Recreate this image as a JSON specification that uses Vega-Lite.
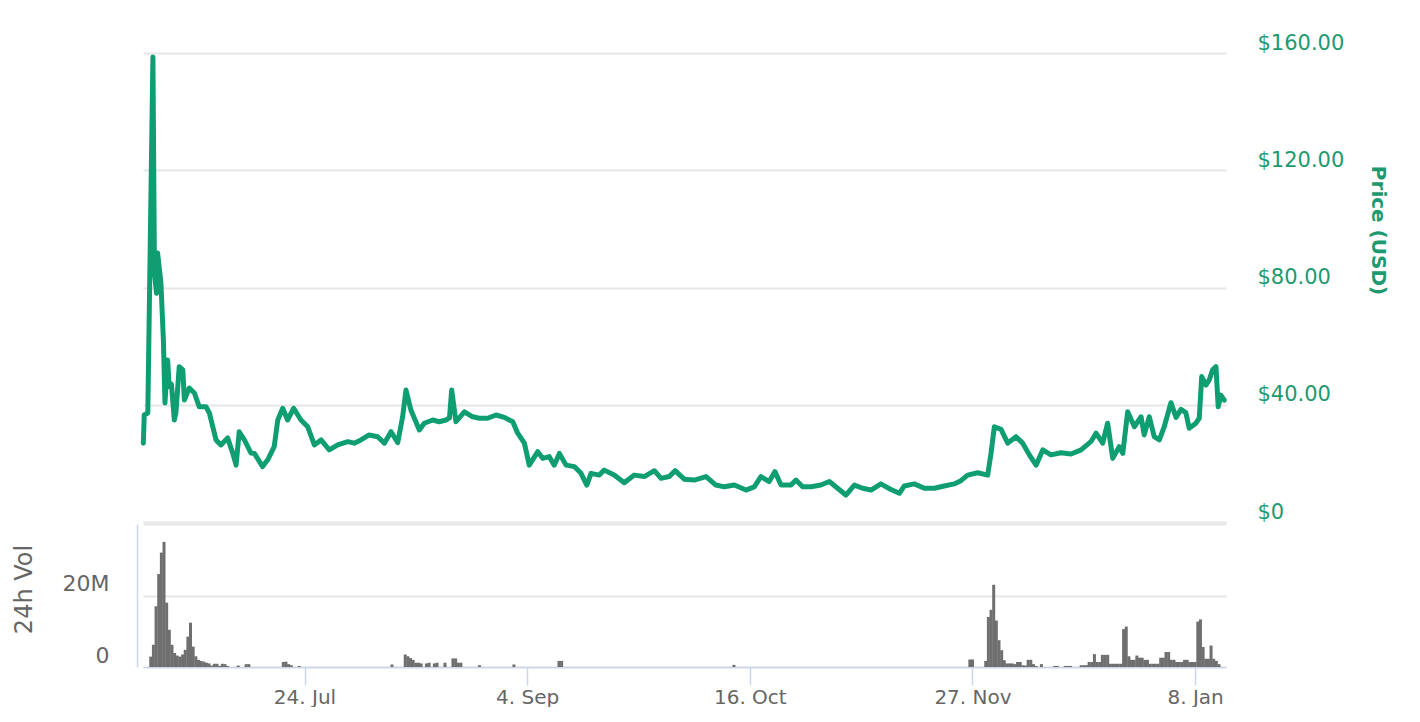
{
  "$schema": "https://vega.github.io/schema/vega-lite/v6.json",
  "background": "white",
  "padding": {"left": 12, "top": 32, "right": 20, "bottom": 0},
  "spacing": 2,
  "config": {"view": {"stroke": null}, "font": "DejaVu Sans"},
  "datasets": {
    "price": [
      {"t":"2017-06-24T13:00","p":26.9},{"t":"2017-06-24T17:00","p":36.5},{"t":"2017-06-25T09:00","p":37.2},{"t":"2017-06-25T16:00","p":73.5},
      {"t":"2017-06-26T08:00","p":158.6},{"t":"2017-06-26T15:00","p":85},{"t":"2017-06-27T00:00","p":78},{"t":"2017-06-27T05:00","p":91.8},
      {"t":"2017-06-27T20:00","p":81.5},{"t":"2017-06-28T07:00","p":62},{"t":"2017-06-28T14:00","p":40.6},{"t":"2017-06-29T02:00","p":55.3},
      {"t":"2017-06-29T09:00","p":46.2},{"t":"2017-06-29T19:00","p":47},{"t":"2017-06-30T08:00","p":34.8},{"t":"2017-06-30T15:00","p":37.2},
      {"t":"2017-07-01T06:00","p":53},{"t":"2017-07-01T22:00","p":51.9},{"t":"2017-07-02T05:00","p":41.6},{"t":"2017-07-03T03:00","p":45.7},
      {"t":"2017-07-04T02:00","p":44},{"t":"2017-07-05T00:00","p":39.3},{"t":"2017-07-06T06:00","p":39.3},{"t":"2017-07-06T21:00","p":37.2},
      {"t":"2017-07-08T03:00","p":28},{"t":"2017-07-09T01:00","p":26.3},{"t":"2017-07-10T07:00","p":28.7},{"t":"2017-07-11T06:00","p":23.5},
      {"t":"2017-07-11T21:00","p":19.4},{"t":"2017-07-12T11:00","p":30.8},{"t":"2017-07-13T10:00","p":28},{"t":"2017-07-14T16:00","p":23.5},
      {"t":"2017-07-15T07:00","p":23.4},{"t":"2017-07-16T20:00","p":18.9},{"t":"2017-07-17T19:00","p":21.2},{"t":"2017-07-19T00:00","p":25.7},
      {"t":"2017-07-19T16:00","p":34.8},{"t":"2017-07-20T14:00","p":38.8},{"t":"2017-07-21T12:00","p":34.8},{"t":"2017-07-22T15:00","p":38.8},
      {"t":"2017-07-24T00:00","p":34.8},{"t":"2017-07-25T06:00","p":32.5},{"t":"2017-07-26T12:00","p":26.3},{"t":"2017-07-27T18:00","p":28},
      {"t":"2017-07-29T07:00","p":24.6},{"t":"2017-07-30T21:00","p":26.3},{"t":"2017-08-01T18:00","p":27.4},{"t":"2017-08-02T23:00","p":26.9},
      {"t":"2017-08-04T05:00","p":28},{"t":"2017-08-05T18:00","p":29.7},{"t":"2017-08-07T08:00","p":29.1},{"t":"2017-08-08T14:00","p":26.9},
      {"t":"2017-08-09T20:00","p":30.8},{"t":"2017-08-11T02:00","p":27.1},{"t":"2017-08-12T00:00","p":35.9},{"t":"2017-08-12T15:00","p":45},
      {"t":"2017-08-13T13:00","p":38.2},{"t":"2017-08-15T03:00","p":31.4},{"t":"2017-08-16T01:00","p":33.7},{"t":"2017-08-17T15:00","p":34.8},
      {"t":"2017-08-18T20:00","p":34.2},{"t":"2017-08-20T02:00","p":34.8},{"t":"2017-08-20T18:00","p":35.5},{"t":"2017-08-21T04:00","p":45},
      {"t":"2017-08-21T23:00","p":34.2},{"t":"2017-08-23T13:00","p":37.6},{"t":"2017-08-25T02:00","p":35.9},{"t":"2017-08-26T08:00","p":35.4},
      {"t":"2017-08-27T21:00","p":35.4},{"t":"2017-08-29T11:00","p":36.5},{"t":"2017-08-31T00:00","p":35.7},{"t":"2017-09-01T14:00","p":34.2},
      {"t":"2017-09-02T12:00","p":30.3},{"t":"2017-09-03T18:00","p":26.9},{"t":"2017-09-04T16:00","p":19.4},{"t":"2017-09-06T06:00","p":24},
      {"t":"2017-09-07T04:00","p":21.7},{"t":"2017-09-08T10:00","p":22.3},{"t":"2017-09-09T08:00","p":19.4},{"t":"2017-09-10T07:00","p":23.4},
      {"t":"2017-09-11T13:00","p":19.4},{"t":"2017-09-13T02:00","p":18.9},{"t":"2017-09-14T08:00","p":16.6},{"t":"2017-09-15T10:00","p":12.6},
      {"t":"2017-09-16T05:00","p":16.6},{"t":"2017-09-17T18:00","p":16},{"t":"2017-09-18T16:00","p":17.7},{"t":"2017-09-20T13:00","p":16},
      {"t":"2017-09-22T10:00","p":13.4},{"t":"2017-09-24T07:00","p":16},{"t":"2017-09-26T04:00","p":15.5},{"t":"2017-09-28T01:00","p":17.5},
      {"t":"2017-09-29T07:00","p":14.9},{"t":"2017-09-30T20:00","p":15.5},{"t":"2017-10-01T22:00","p":17.5},{"t":"2017-10-03T15:00","p":14.6},
      {"t":"2017-10-05T12:00","p":14.3},{"t":"2017-10-07T17:00","p":15.5},{"t":"2017-10-09T13:00","p":12.6},{"t":"2017-10-11T03:00","p":12},
      {"t":"2017-10-13T00:00","p":12.6},{"t":"2017-10-15T04:00","p":10.9},{"t":"2017-10-16T17:00","p":12},{"t":"2017-10-17T23:00","p":15.5},
      {"t":"2017-10-19T12:00","p":13.8},{"t":"2017-10-20T14:00","p":17.2},{"t":"2017-10-21T17:00","p":12.6},{"t":"2017-10-23T14:00","p":12.6},
      {"t":"2017-10-24T12:00","p":14.3},{"t":"2017-10-25T18:00","p":12},{"t":"2017-10-27T08:00","p":12},{"t":"2017-10-29T04:00","p":12.6},
      {"t":"2017-10-30T18:00","p":13.8},{"t":"2017-11-01T07:00","p":11.5},{"t":"2017-11-02T20:00","p":9.2},{"t":"2017-11-04T10:00","p":12.6},
      {"t":"2017-11-05T23:00","p":11.5},{"t":"2017-11-07T13:00","p":10.9},{"t":"2017-11-09T09:00","p":13},{"t":"2017-11-11T06:00","p":11.1},
      {"t":"2017-11-12T20:00","p":9.8},{"t":"2017-11-13T18:00","p":12.3},{"t":"2017-11-15T15:00","p":13},{"t":"2017-11-17T12:00","p":11.5},
      {"t":"2017-11-19T09:00","p":11.5},{"t":"2017-11-21T05:00","p":12.3},{"t":"2017-11-23T02:00","p":13},{"t":"2017-11-24T08:00","p":14.1},
      {"t":"2017-11-25T14:00","p":16},{"t":"2017-11-27T11:00","p":16.8},{"t":"2017-11-29T08:00","p":16},{"t":"2017-11-29T23:00","p":23.4},
      {"t":"2017-11-30T14:00","p":32.5},{"t":"2017-12-01T20:00","p":31.6},{"t":"2017-12-03T02:00","p":26.9},{"t":"2017-12-04T15:00","p":29.1},
      {"t":"2017-12-05T21:00","p":26.9},{"t":"2017-12-07T03:00","p":22.9},{"t":"2017-12-08T09:00","p":19.4},{"t":"2017-12-09T15:00","p":24.6},
      {"t":"2017-12-11T04:00","p":22.9},{"t":"2017-12-13T01:00","p":23.6},{"t":"2017-12-14T22:00","p":23.2},{"t":"2017-12-16T19:00","p":24.6},
      {"t":"2017-12-18T15:00","p":27.4},{"t":"2017-12-19T14:00","p":30.3},{"t":"2017-12-20T20:00","p":26.9},{"t":"2017-12-21T18:00","p":33.7},
      {"t":"2017-12-22T17:00","p":21.7},{"t":"2017-12-23T22:00","p":25.7},{"t":"2017-12-24T14:00","p":23.4},{"t":"2017-12-25T12:00","p":37.6},
      {"t":"2017-12-26T18:00","p":32.5},{"t":"2017-12-28T00:00","p":35.9},{"t":"2017-12-28T14:00","p":29.7},{"t":"2017-12-29T13:00","p":35.9},
      {"t":"2017-12-30T11:00","p":29.1},{"t":"2017-12-31T10:00","p":28},{"t":"2018-01-01T08:00","p":32.5},{"t":"2018-01-02T14:00","p":40.7},
      {"t":"2018-01-03T13:00","p":35.7},{"t":"2018-01-04T11:00","p":38.4},{"t":"2018-01-05T09:00","p":37.3},{"t":"2018-01-06T00:00","p":32},
      {"t":"2018-01-07T06:00","p":33.7},{"t":"2018-01-07T21:00","p":35.4},{"t":"2018-01-08T08:00","p":49.6},{"t":"2018-01-09T03:00","p":46.7},
      {"t":"2018-01-09T18:00","p":48.5},{"t":"2018-01-10T09:00","p":51.9},{"t":"2018-01-11T00:00","p":53},{"t":"2018-01-11T10:00","p":39.3},
      {"t":"2018-01-11T22:00","p":43.3},{"t":"2018-01-12T13:00","p":41.6}
    ],
    "volume": [
      {"t":"2017-06-25T00:00","v":2900000},{"t":"2017-06-25T12:00","v":6200000},{"t":"2017-06-26T00:00","v":17000000},{"t":"2017-06-26T12:00","v":26000000},
      {"t":"2017-06-27T00:00","v":32000000},{"t":"2017-06-27T12:00","v":35000000},{"t":"2017-06-28T00:00","v":18000000},{"t":"2017-06-28T12:00","v":10400000},
      {"t":"2017-06-29T00:00","v":6200000},{"t":"2017-06-29T12:00","v":3900000},{"t":"2017-06-30T00:00","v":3200000},{"t":"2017-06-30T12:00","v":2900000},
      {"t":"2017-07-01T00:00","v":3500000},{"t":"2017-07-01T12:00","v":4800000},{"t":"2017-07-02T00:00","v":8500000},{"t":"2017-07-02T12:00","v":12400000},
      {"t":"2017-07-03T00:00","v":5700000},{"t":"2017-07-03T12:00","v":3000000},{"t":"2017-07-04T00:00","v":2000000},{"t":"2017-07-04T12:00","v":1700000},
      {"t":"2017-07-05T00:00","v":1500000},{"t":"2017-07-05T12:00","v":1200000},{"t":"2017-07-06T00:00","v":1000000},{"t":"2017-07-06T12:00","v":400000},
      {"t":"2017-07-07T00:00","v":900000},{"t":"2017-07-07T12:00","v":900000},{"t":"2017-07-08T00:00","v":300000},{"t":"2017-07-08T12:00","v":900000},
      {"t":"2017-07-09T00:00","v":800000},{"t":"2017-07-09T12:00","v":300000},{"t":"2017-07-11T12:00","v":400000},{"t":"2017-07-13T00:00","v":800000},
      {"t":"2017-07-13T12:00","v":800000},{"t":"2017-07-20T00:00","v":1400000},{"t":"2017-07-20T12:00","v":1500000},{"t":"2017-07-21T00:00","v":800000},
      {"t":"2017-07-21T12:00","v":500000},{"t":"2017-07-23T00:00","v":300000},{"t":"2017-08-09T12:00","v":700000},{"t":"2017-08-12T00:00","v":3500000},
      {"t":"2017-08-12T12:00","v":3000000},{"t":"2017-08-13T00:00","v":2500000},{"t":"2017-08-13T12:00","v":2000000},{"t":"2017-08-14T00:00","v":1200000},
      {"t":"2017-08-14T12:00","v":1200000},{"t":"2017-08-15T00:00","v":1000000},{"t":"2017-08-16T00:00","v":1000000},{"t":"2017-08-16T12:00","v":1200000},
      {"t":"2017-08-17T12:00","v":1000000},{"t":"2017-08-18T00:00","v":1200000},{"t":"2017-08-19T12:00","v":1200000},{"t":"2017-08-21T00:00","v":2400000},
      {"t":"2017-08-21T12:00","v":2400000},{"t":"2017-08-22T00:00","v":1200000},{"t":"2017-08-22T12:00","v":1200000},{"t":"2017-08-26T00:00","v":500000},
      {"t":"2017-09-01T12:00","v":700000},{"t":"2017-09-10T00:00","v":1700000},{"t":"2017-09-10T12:00","v":1700000},{"t":"2017-10-13T00:00","v":600000},
      {"t":"2017-11-26T12:00","v":2100000},{"t":"2017-11-27T00:00","v":2100000},{"t":"2017-11-29T12:00","v":1700000},{"t":"2017-11-30T00:00","v":14000000},
      {"t":"2017-11-30T12:00","v":16000000},{"t":"2017-12-01T00:00","v":23000000},{"t":"2017-12-01T12:00","v":13000000},{"t":"2017-12-02T00:00","v":7500000},
      {"t":"2017-12-02T12:00","v":4700000},{"t":"2017-12-03T00:00","v":1900000},{"t":"2017-12-03T12:00","v":1000000},{"t":"2017-12-04T00:00","v":1000000},
      {"t":"2017-12-04T12:00","v":1000000},{"t":"2017-12-05T00:00","v":800000},{"t":"2017-12-05T12:00","v":1400000},{"t":"2017-12-06T00:00","v":1400000},
      {"t":"2017-12-06T12:00","v":500000},{"t":"2017-12-07T00:00","v":400000},{"t":"2017-12-07T12:00","v":2000000},{"t":"2017-12-08T00:00","v":2000000},
      {"t":"2017-12-08T12:00","v":800000},{"t":"2017-12-09T00:00","v":300000},{"t":"2017-12-10T00:00","v":800000},{"t":"2017-12-12T12:00","v":300000},
      {"t":"2017-12-13T00:00","v":300000},{"t":"2017-12-14T12:00","v":300000},{"t":"2017-12-15T00:00","v":300000},{"t":"2017-12-15T12:00","v":300000},
      {"t":"2017-12-17T12:00","v":500000},{"t":"2017-12-18T00:00","v":500000},{"t":"2017-12-18T12:00","v":500000},{"t":"2017-12-19T00:00","v":1400000},
      {"t":"2017-12-19T12:00","v":1400000},{"t":"2017-12-20T00:00","v":3600000},{"t":"2017-12-20T12:00","v":1400000},{"t":"2017-12-21T00:00","v":1400000},
      {"t":"2017-12-21T12:00","v":3400000},{"t":"2017-12-22T00:00","v":3400000},{"t":"2017-12-22T12:00","v":3400000},{"t":"2017-12-23T00:00","v":900000},
      {"t":"2017-12-23T12:00","v":900000},{"t":"2017-12-24T00:00","v":900000},{"t":"2017-12-24T12:00","v":900000},{"t":"2017-12-25T00:00","v":900000},
      {"t":"2017-12-25T12:00","v":10600000},{"t":"2017-12-26T00:00","v":11300000},{"t":"2017-12-26T12:00","v":3000000},{"t":"2017-12-27T00:00","v":2000000},
      {"t":"2017-12-27T12:00","v":2000000},{"t":"2017-12-28T00:00","v":3200000},{"t":"2017-12-28T12:00","v":2600000},{"t":"2017-12-29T00:00","v":2600000},
      {"t":"2017-12-29T12:00","v":2000000},{"t":"2017-12-30T00:00","v":2000000},{"t":"2017-12-30T12:00","v":900000},{"t":"2017-12-31T00:00","v":900000},
      {"t":"2017-12-31T12:00","v":900000},{"t":"2018-01-01T00:00","v":900000},{"t":"2018-01-01T12:00","v":2600000},{"t":"2018-01-02T00:00","v":2600000},
      {"t":"2018-01-02T12:00","v":4200000},{"t":"2018-01-03T00:00","v":4200000},{"t":"2018-01-03T12:00","v":2000000},{"t":"2018-01-04T00:00","v":2000000},
      {"t":"2018-01-04T12:00","v":1400000},{"t":"2018-01-05T00:00","v":1400000},{"t":"2018-01-05T12:00","v":1400000},{"t":"2018-01-06T00:00","v":2000000},
      {"t":"2018-01-06T12:00","v":2000000},{"t":"2018-01-07T00:00","v":1400000},{"t":"2018-01-07T12:00","v":1400000},{"t":"2018-01-08T00:00","v":1400000},
      {"t":"2018-01-08T12:00","v":12700000},{"t":"2018-01-09T00:00","v":13300000},{"t":"2018-01-09T12:00","v":5600000},{"t":"2018-01-10T00:00","v":2300000},
      {"t":"2018-01-10T12:00","v":2300000},{"t":"2018-01-11T00:00","v":6000000},{"t":"2018-01-11T12:00","v":2300000},{"t":"2018-01-12T00:00","v":1700000},
      {"t":"2018-01-12T12:00","v":800000}
    ]
  },
  "vconcat": [
    {
      "width": 1083,
      "height": 469,
      "data": {"name": "price"},
      "mark": {"type": "line", "color": "#0f9e72", "strokeWidth": 5, "strokeJoin": "round", "strokeCap": "round"},
      "encoding": {
        "x": {"field": "t", "type": "temporal", "scale": {"domain": ["2017-06-24T11:30", "2018-01-12T21:00"]}, "axis": null},
        "y": {
          "field": "p", "type": "quantitative",
          "scale": {"domain": [0, 160], "nice": false},
          "axis": {
            "orient": "right", "values": [0, 40, 80, 120, 160],
            "labelExpr": "datum.value == 0 ? '$0' : format(datum.value, '$,.2f')",
            "grid": true, "gridColor": "#e6e6e6", "gridWidth": 2,
            "domain": false, "ticks": false,
            "labelPadding": 31, "labelFontSize": 21, "labelColor": "#1d9a70",
            "labelBaseline": "alphabetic", "labelOffset": -4,
            "title": "Price (USD)", "titleAngle": 90, "titleX": 151, "titleY": 177,
            "titleAlign": "center", "titleBaseline": "middle",
            "titleFontSize": 20, "titleFontWeight": "bold", "titleColor": "#1d9a70"
          }
        }
      }
    },
    {
      "width": 1083,
      "height": 143,
      "data": {"name": "volume"},
      "mark": {"type": "bar", "color": "#6f6f6f", "width": 3},
      "encoding": {
        "x": {
          "field": "t", "type": "temporal",
          "scale": {"domain": ["2017-06-24T11:30", "2018-01-12T21:00"]},
          "axis": {
            "values": [
              {"year": 2017, "month": "jul", "date": 24},
              {"year": 2017, "month": "sep", "date": 4},
              {"year": 2017, "month": "oct", "date": 16},
              {"year": 2017, "month": "nov", "date": 27},
              {"year": 2018, "month": "jan", "date": 8}
            ],
            "format": "%-d. %b", "grid": false,
            "domainColor": "#ccd6eb", "domainWidth": 1.5,
            "tickColor": "#ccd6eb", "tickSize": 18, "tickWidth": 1.5,
            "labelFontSize": 20, "labelColor": "#666666", "labelPadding": 2,
            "title": null
          }
        },
        "y": {
          "field": "v", "type": "quantitative",
          "scale": {"domain": [0, 40000000], "nice": false},
          "axis": {
            "orient": "left", "values": [0, 20000000, 40000000],
            "labelExpr": "datum.value == 0 ? '0' : (datum.value == 20000000 ? '20M' : '')",
            "grid": true, "gridColor": "#e6e6e6", "gridWidth": 2,
            "domain": true, "domainColor": "#ccd6eb", "domainWidth": 1.5, "offset": 6,
            "ticks": false,
            "labelPadding": 28, "labelFontSize": 22, "labelColor": "#666666",
            "labelBaseline": "alphabetic", "labelOffset": -5,
            "title": "24h Vol", "titleAngle": -90, "titleX": -113, "titleY": 65,
            "titleAlign": "center", "titleBaseline": "middle",
            "titleFontSize": 24, "titleFontWeight": "normal", "titleColor": "#666666"
          }
        }
      }
    }
  ]
}
